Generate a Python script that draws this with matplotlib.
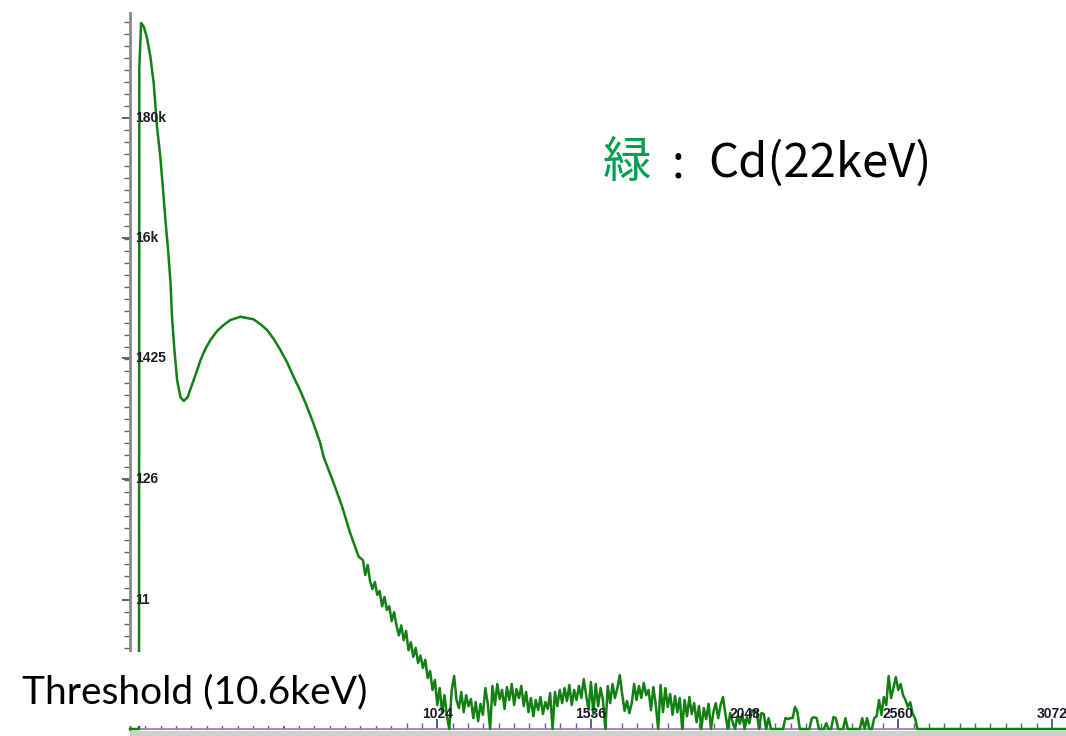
import numpy as np
import matplotlib.pyplot as plt
from matplotlib.patches import Rectangle
from matplotlib.ticker import FixedLocator, MultipleLocator, NullFormatter

# spectrum below the noise floor: threshold edge, Cd peak and the broad bump
peak_ch = [0, 30, 31, 37, 46, 57, 68, 79, 90, 101,
           112, 118, 127, 135, 140, 148, 157, 168, 179, 192,
           212, 224, 235, 251, 268, 290, 312, 334, 368, 412,
           434, 457, 479, 501, 523, 545, 568, 590, 612, 634,
           645, 679, 707, 734, 762]
peak_counts = [0, 0, 491000, 1220000, 1130000, 895000, 617000, 361600, 151000, 82500,
               36900, 23100, 12600, 6490, 3275, 1690, 921, 654, 604, 654,
               921, 1127, 1378, 1720, 2060, 2470, 2790, 3083, 3295, 3127,
               2844, 2520, 2103, 1690, 1324, 985, 738, 538, 380, 259,
               197, 115, 71.9, 42.1, 26.3]

# noisy tail, one reading every 8 channels starting at channel 776
tail_start, tail_step = 776, 8
tail_counts = [
    24.6, 18.2, 22.3, 16.1, 13.7, 15.8, 12.2, 13.2, 9.7, 11.7,
    9.0, 9.7, 7.2, 8.6, 6.6, 5.4, 6.6, 4.9, 5.9, 4.0,
    4.7, 3.5, 4.2, 3.1, 3.6, 2.80, 3.3, 2.29, 2.63, 1.80,
    2.20, 1.33, 1.87, 1.15, 1.62, 1.06, 0, 1.80, 2.38, 1.47,
    1.25, 1.73, 1.15, 1.62, 1.30, 1.50, 1.02, 1.41, 0.96, 1.36,
    1.09, 1.87, 1.38, 0, 1.95, 1.33, 2.03, 1.50, 1.80, 1.23,
    1.91, 1.47, 2.03, 1.33, 1.83, 1.53, 1.95, 1.30, 1.73, 1.15,
    1.53, 1.06, 1.47, 1.20, 1.56, 1.11, 1.41, 1.23, 1.69, 0,
    1.73, 1.30, 1.80, 1.38, 1.87, 1.44, 1.99, 1.33, 1.80, 1.47,
    1.95, 1.53, 2.24, 1.62, 1.20, 2.11, 1.11, 2.03, 1.30, 1.87,
    1.47, 0, 1.95, 1.38, 2.03, 1.53, 1.87, 2.43, 1.66, 1.18,
    1.44, 1.13, 1.38, 2.03, 1.47, 1.95, 1.53, 2.07, 1.62, 1.80,
    1.20, 1.91, 1.33, 0, 1.99, 1.15, 1.87, 1.28, 1.66, 1.09,
    1.59, 1.15, 1.53, 0, 1.47, 1.06, 1.56, 1.11, 1.38, 0.94,
    1.30, 0, 1.25, 1.00, 1.36, 0, 1.15, 1.38, 1.02, 1.33,
    1.56, 1.11, 0, 1.13, 0.94, 0, 1.06, 0.91, 1.11, 0,
    1.04, 0.92, 1.20, 1.15, 1.18, 0, 1.13, 1.11, 0, 1.02,
    0, 0, 0, 0, 0, 0, 1.02, 1.00, 1.02, 1.02,
    1.28, 1.15, 0, 0, 0, 0, 0, 1.02, 1.04, 1.02,
    0, 0, 0, 0.92, 0, 0, 1.04, 1.02, 0, 0,
    0, 1.02, 0, 0, 0, 0, 0, 0, 1.02, 0,
    1.02, 0, 0, 1.02, 1.06, 1.47, 1.09, 1.56, 1.33, 2.38,
    1.53, 1.87, 2.33, 1.80, 2.03, 1.62, 1.47, 1.28, 1.41, 1.11,
    1.02, 0,
]
end_ch = [2632, 3300]
end_counts = [0, 0]

y_ticks = [11, 126, 1425, 16000, 180000]
y_labels = ["11", "126", "1425", "16k", "180k"]
x_ticks = [512, 1024, 1536, 2048, 2560, 3072]
x_labels = ["1024", "1536", "2048", "2560", "3072"]

tail_ch = tail_start + tail_step * np.arange(len(tail_counts))
channels = np.concatenate([peak_ch, tail_ch, end_ch])
counts = np.concatenate([peak_counts, tail_counts, end_counts])

W, H = 1066, 736
y_lo, y_hi = 0.82, 1.49e6

fig = plt.figure(figsize=(W / 100, H / 100), dpi=100)
ax = fig.add_axes([130 / W, 7 / H, 936 / W, 716 / H])

# empty channels sit on the floor of the log axis
ax.plot(channels, np.clip(counts, y_lo, None), color="#128012", lw=1.8,
        clip_on=False, zorder=3)

ax.set_yscale("log")
ax.set_ylim(y_lo, y_hi)
ax.set_xlim(0, 3119)

for side in ("top", "right"):
    ax.spines[side].set_visible(False)
ax.spines["left"].set_color("#8a8a8a")
ax.spines["left"].set_linewidth(2)
ax.spines["bottom"].set_color("#a070b4")
ax.spines["bottom"].set_linewidth(1.2)

ratio = (y_ticks[-1] / y_ticks[0]) ** (1 / 40)
ax.yaxis.set_major_locator(FixedLocator(y_ticks))
ax.yaxis.set_minor_locator(FixedLocator([y_ticks[-1] * ratio ** k for k in range(-52, 12)]))
ax.yaxis.set_major_formatter(NullFormatter())
ax.yaxis.set_minor_formatter(NullFormatter())
ax.tick_params(axis="y", which="major", direction="out", length=6, width=1.2, color="#2f4a6e")
ax.tick_params(axis="y", which="minor", direction="out", length=4, width=1.0, color="#4d6788")

ax.xaxis.set_major_locator(FixedLocator(x_ticks))
ax.xaxis.set_minor_locator(MultipleLocator(51.2))
ax.xaxis.set_major_formatter(NullFormatter())
ax.tick_params(axis="x", which="major", direction="in", length=7, width=1.2, color="#2f4a6e")
ax.tick_params(axis="x", which="minor", direction="in", length=4, width=1.0, color="#4d6788")

label_font = dict(fontsize=10, fontweight="bold", family="Liberation Sans", color="#1c1c28")
for v, s in zip(y_ticks, y_labels):
    ax.text(0.006, v, s, transform=ax.get_yaxis_transform(), ha="left", va="center", **label_font)
for s in x_labels:
    ax.text(int(s), 0.021, s, transform=ax.get_xaxis_transform(), ha="center", va="center", **label_font)

# scroll bar strip under the axis
fig.add_artist(Rectangle((130 / W, 0), 936 / W, 5 / H, transform=fig.transFigure,
                         facecolor="#cfcfcf", edgecolor="none", zorder=1))

# threshold note over the lower left corner
fig.add_artist(Rectangle((0, 10 / H), 395 / W, 74 / H, transform=fig.transFigure,
                         facecolor="white", edgecolor="none", zorder=5))
fig.text(22 / W, (H - 703) / H, "Threshold (10.6keV)", fontsize=28, family="Lato",
         va="baseline", zorder=6)

cjk = "Noto Sans CJK JP"
base = (H - 177) / H
fig.text(603 / W, base, "緑", color="#00a050", fontsize=35, family=cjk, va="baseline")
fig.text(672 / W, base, ":", fontsize=33, family=cjk, va="baseline")
fig.text(708 / W, base, "Cd(22keV)", fontsize=34, family=cjk, va="baseline")

fig.savefig("out.png", dpi=100)
